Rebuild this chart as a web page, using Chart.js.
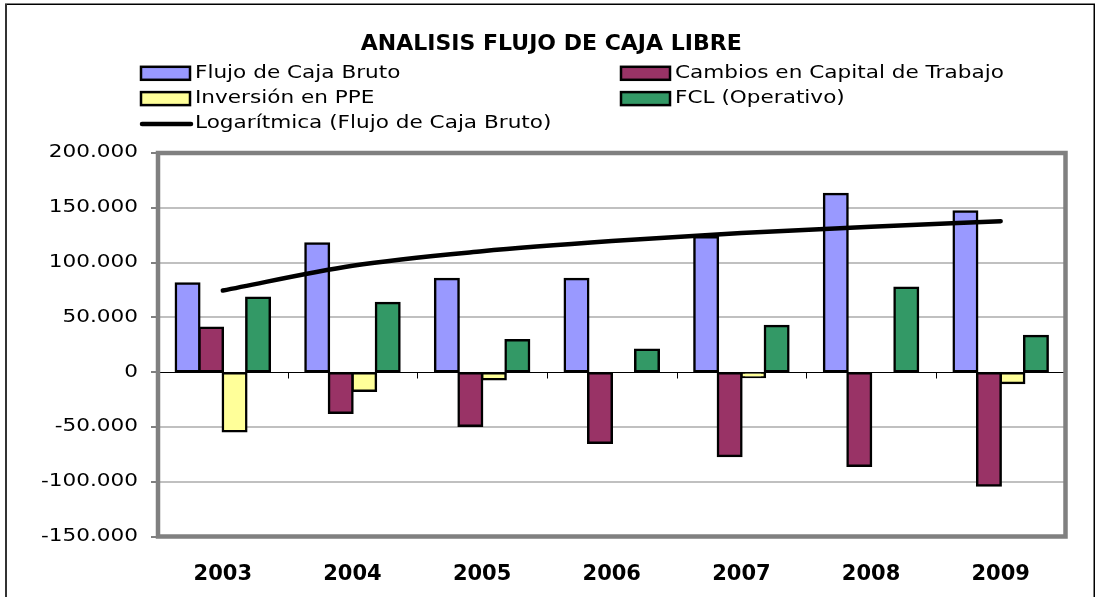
<!DOCTYPE html>
<html>
<head>
<meta charset="utf-8">
<script src="https://cdn.jsdelivr.net/npm/chart.js@4.4.1/dist/chart.umd.min.js"></script>
<style>
  html, body { margin: 0; padding: 0; background: #fff; overflow: hidden; }
  #wrap { position: relative; width: 1096px; height: 597px; }
</style>
</head>
<body>
<div id="wrap"><canvas id="myChart"></canvas></div>
<script>
const years = ['2003', '2004', '2005', '2006', '2007', '2008', '2009'];
const flujoBruto = [81000, 117500, 85000, 85000, 123000, 162500, 146500];
const cambiosCapital = [40500, -37000, -49000, -64500, -76500, -85500, -103500];
const inversionPPE = [-54000, -17000, -6500, 0, -4500, 0, -10000];
const fclOperativo = [68000, 63000, 29000, 20500, 42000, 77000, 33000];
const tendenciaLog = [74500, 97100, 110300, 119600, 126900, 132800, 137800];

const FONT = "'DejaVu Sans', Verdana, sans-serif";
const STRETCH = 1.27; // wide Excel-style text

function miles(v) {
    const s = String(Math.abs(v)).replace(/\B(?=(\d{3})+(?!\d))/g, '.');
    return (v < 0 ? '-' : '') + s;
}

function wideText(c, text, x, y, align) {
    c.save();
    c.translate(x, y);
    c.scale(STRETCH, 1);
    c.textAlign = align;
    c.textBaseline = 'middle';
    c.fillText(text, 0, 0);
    c.restore();
}

// frame, zero axis, stretched y labels and the two-column legend
const excelLook = {
    id: 'excelLook',
    beforeDraw(chart) {
        const c = chart.ctx;
        c.save();
        c.fillStyle = '#fff';
        c.fillRect(0, 0, chart.width, chart.height);
        c.strokeStyle = '#000';
        c.lineWidth = 1.5;
        c.strokeRect(5.75, 4.25, 1088.5, 700);
        c.fillStyle = '#333';
        c.fillRect(5, 4, 2, chart.height);
        c.restore();
    },
    beforeDatasetsDraw(chart) {
        const c = chart.ctx;
        const xs = chart.scales.x, ys = chart.scales.y;
        const y0 = Math.round(ys.getPixelForValue(0)) + 0.5;
        c.save();
        c.strokeStyle = '#000';
        c.lineWidth = 1;
        c.beginPath();
        c.moveTo(chart.chartArea.left, y0);
        c.lineTo(chart.chartArea.right, y0);
        for (let i = 0; i <= years.length; i++) {
            const x = Math.round(xs.getPixelForValue(i - 0.5)) + 0.5;
            c.moveTo(x, y0);
            c.lineTo(x, y0 + 6);
        }
        c.stroke();
        c.restore();
    },
    afterDatasetsDraw(chart) {
        const c = chart.ctx;
        const a = chart.chartArea;
        const ys = chart.scales.y;
        c.save();
        c.strokeStyle = '#808080';
        c.lineWidth = 4.5;
        c.strokeRect(a.left, a.top, a.right - a.left, a.bottom - a.top);

        c.fillStyle = '#000';
        c.font = '17px ' + FONT;
        ys.ticks.forEach((t, i) => {
            wideText(c, t.label, 138, ys.getPixelForTick(i), 'right');
        });

        const cols = [141, 621];
        chart.data.datasets.forEach((ds, i) => {
            const bx = cols[i % 2];
            const cy = 73.3 + Math.floor(i / 2) * 25.3;
            if (ds.type === 'line') {
                c.strokeStyle = '#000';
                c.lineWidth = 4.5;
                c.lineCap = 'round';
                c.beginPath();
                c.moveTo(bx + 1, cy);
                c.lineTo(bx + 50, cy);
                c.stroke();
            } else {
                c.fillStyle = ds.backgroundColor;
                c.fillRect(bx, cy - 6.5, 49, 13);
                c.strokeStyle = '#000';
                c.lineWidth = 2.5;
                c.strokeRect(bx, cy - 6.5, 49, 13);
            }
            c.fillStyle = '#000';
            wideText(c, ds.label, bx + 54, cy, 'left');
        });
        c.restore();
    }
};

function barSet(label, data, color) {
    return {
        label: label,
        data: data,
        backgroundColor: color,
        borderColor: '#000',
        borderWidth: ctx => ctx.raw === 0 ? 0 : 2.5,
        inflateAmount: ctx => ctx.raw === 0 ? 0 : 1.25,
        borderSkipped: false,
        categoryPercentage: 0.725,
        barPercentage: 1
    };
}

const ctx = document.getElementById('myChart').getContext('2d');
new Chart(ctx, {
    type: 'bar',
    data: {
        labels: years,
        datasets: [
            barSet('Flujo de Caja Bruto', flujoBruto, '#9999FF'),
            barSet('Cambios en Capital de Trabajo', cambiosCapital, '#993366'),
            barSet('Inversión en PPE', inversionPPE, '#FFFF99'),
            barSet('FCL (Operativo)', fclOperativo, '#339966'),
            {
                type: 'line',
                label: 'Logarítmica (Flujo de Caja Bruto)',
                data: tendenciaLog,
                borderColor: '#000',
                borderWidth: 4.5,
                borderCapStyle: 'round',
                cubicInterpolationMode: 'monotone',
                pointRadius: 0,
                fill: false,
                order: -1
            }
        ]
    },
    options: {
        responsive: true,
        maintainAspectRatio: false,
        animation: false,
        devicePixelRatio: 1,
        layout: { padding: { left: 37, right: 30.5, top: 0, bottom: 0 } },
        plugins: {
            legend: { display: false },
            tooltip: { enabled: false },
            title: {
                display: true,
                text: 'ANALISIS FLUJO DE CAJA LIBRE',
                color: '#000',
                font: { family: FONT, size: 22, weight: 'bold' },
                padding: { top: 31, bottom: 95.6 }
            }
        },
        scales: {
            x: {
                grid: { display: false, drawTicks: false },
                border: { display: false },
                ticks: {
                    color: '#000',
                    font: { family: FONT, size: 21, weight: 'bold' },
                    padding: 25,
                    maxRotation: 0
                },
                afterFit: s => { s.height = 60.5; }
            },
            y: {
                min: -150000,
                max: 200000,
                ticks: {
                    stepSize: 50000,
                    color: 'rgba(0,0,0,0)',
                    callback: v => miles(v)
                },
                grid: {
                    color: c => c.tick && c.tick.value === 0 ? 'rgba(0,0,0,0)' : '#C0C0C0',
                    lineWidth: 2,
                    drawTicks: true,
                    tickLength: 7,
                    tickColor: '#000',
                    tickWidth: 1
                },
                border: { display: false },
                afterFit: s => { s.width = 121; }
            }
        }
    },
    plugins: [excelLook]
});
</script>
</body>
</html>
